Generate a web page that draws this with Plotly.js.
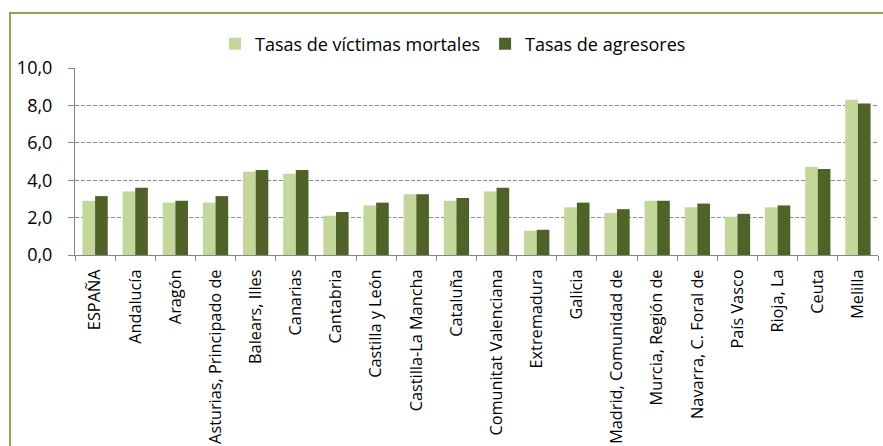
<!DOCTYPE html>
<html>
<head>
<meta charset="utf-8">
<script src="https://cdn.plot.ly/plotly-3.0.1.min.js"></script>
<style>
html,body{margin:0;padding:0;background:#fff;overflow:hidden;}
#chart{width:883px;height:446px;}
</style>
</head>
<body>
<div id="chart"></div>
<script>
const categories = ["ESPAÑA","Andalucía","Aragón","Asturias, Principado de","Balears, Illes","Canarias","Cantabria","Castilla y León","Castilla-La Mancha","Cataluña","Comunitat Valenciana","Extremadura","Galicia","Madrid, Comunidad de","Murcia, Región de","Navarra, C. Foral de","País Vasco","Rioja, La","Ceuta","Melilla"];
const victimas = [2.9,3.4,2.8,2.8,4.45,4.35,2.1,2.65,3.25,2.9,3.4,1.3,2.55,2.25,2.9,2.55,2.05,2.55,4.7,8.3];
const agresores = [3.15,3.6,2.9,3.15,4.55,4.55,2.3,2.8,3.25,3.05,3.6,1.35,2.8,2.45,2.9,2.75,2.2,2.65,4.6,8.1];
const seriesNames = ["Tasas de víctimas mortales","Tasas de agresores"];
const yTicks = [0,2,4,6,8,10];

const FONT = "Open Sans, sans-serif";
const W = 883, H = 446, ML = 75, MR = 5, MT = 68, MB = 191;
const pw = W - ML - MR, ph = H - MT - MB;
const px2x = p => (p - ML) / pw;
const py2y = p => (H - MB - p) / ph;
const frameColor = "#8FA35F";

const data = [
  {type:"bar", x:categories, y:victimas, name:seriesNames[0], marker:{color:"#C4D79B"}},
  {type:"bar", x:categories, y:agresores, name:seriesNames[1], marker:{color:"#4F6228"}}
];
const layout = {
  width:W, height:H,
  margin:{l:ML, r:MR, t:MT, b:MB, autoexpand:false},
  paper_bgcolor:"#fff", plot_bgcolor:"#fff",
  separators:",.",
  barmode:"group", bargap:0.37, bargroupgap:0,
  font:{family:FONT, color:"#000"},
  showlegend:true,
  legend:{orientation:"h", x:px2x(453), xanchor:"center", y:py2y(44), yanchor:"middle",
          font:{family:FONT, size:18, color:"#000"}, itemwidth:30, traceorder:"normal"},
  xaxis:{type:"category", showline:true, linecolor:"#868686", linewidth:1,
         ticks:"outside", tickson:"boundaries", ticklen:5, tickcolor:"#868686",
         tickangle:-90, tickfont:{family:FONT, size:16.3, color:"#000"}, ticklabelstandoff:7,
         showgrid:false, automargin:false, fixedrange:true},
  yaxis:{range:[0,10], tickvals:yTicks, tickformat:".1f", showline:true, linecolor:"#868686",
         ticks:"outside", ticklen:6, tickcolor:"#868686",
         tickfont:{family:FONT, size:18, color:"#000"}, ticklabelstandoff:12,
         showgrid:true, gridcolor:"#8C8C8C", gridwidth:1, griddash:"4px,2px",
         zeroline:false, automargin:false, fixedrange:true},
  shapes:[
    {type:"line", xref:"paper", yref:"paper", x0:px2x(10), x1:px2x(10), y0:py2y(12), y1:py2y(460),
     line:{color:frameColor, width:2}},
    {type:"line", xref:"paper", yref:"paper", x0:px2x(9), x1:px2x(900), y0:py2y(13), y1:py2y(13),
     line:{color:frameColor, width:2}}
  ]
};
Plotly.newPlot("chart", data, layout, {displayModeBar:false, staticPlot:true});
</script>
</body>
</html>
